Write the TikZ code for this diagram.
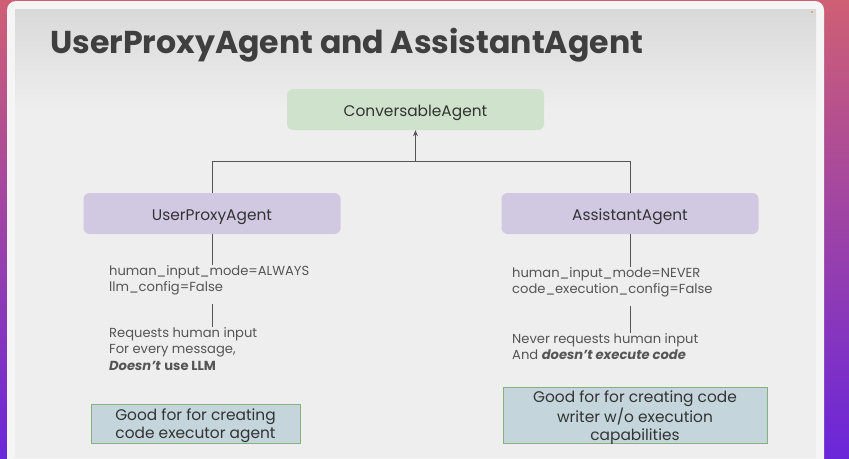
\documentclass[tikz,border=0pt]{standalone}
\usepackage{fontspec}
\setmainfont{Poppins}
\usetikzlibrary{arrows.meta,calc}
\definecolor{bgtop}{HTML}{CF5F74}
\definecolor{bgbot}{HTML}{6A26DA}
\definecolor{framec}{HTML}{F5F5F5}
\definecolor{slidetop}{HTML}{D9D9D9}
\definecolor{slidebg}{HTML}{EEEEEE}
\definecolor{titlec}{HTML}{3F3F3F}
\definecolor{textc}{HTML}{333333}
\definecolor{notec}{HTML}{555555}
\definecolor{linec}{HTML}{555555}
\definecolor{convc}{HTML}{CFE2CB}
\definecolor{lavc}{HTML}{D1C9E2}
\definecolor{goodf}{HTML}{C4D6DC}
\definecolor{goodb}{HTML}{82B27E}
\newcommand{\lowerby}[2]{\raisebox{-#1}[\height][\depth]{#2}}
\tikzset{
  agent/.style={rounded corners=6pt, minimum width=257pt, minimum height=41pt, font=\fontsize{15.4}{18}\selectfont, text=textc, inner sep=0pt, text height=10.8pt, text depth=0pt},
  note/.style={align=left, anchor=north west, inner sep=0pt, font=\fontsize{13.1}{16.8}\selectfont, text=notec},
  good/.style={draw=goodb, fill=goodf, line width=0.9pt, align=center, font=\fontsize{15.4}{18}\selectfont, text=textc, inner sep=0pt},
  conn/.style={draw=linec, line width=1pt},
}
\begin{document}
\begin{tikzpicture}[x=1pt,y=-1pt]
\useasboundingbox (0,0) rectangle (849,458);
\shade[top color=bgtop, bottom color=bgbot] (0,0) rectangle (849,458);
\fill[framec, rounded corners=9pt] (7,1) rectangle (824,490);
\shade[top color=slidetop, bottom color=slidebg] (15,9) rectangle (816,110);
\fill[slidebg] (15,109.5) rectangle (816,458);
\fill[orange] (812,12) circle (0.8);

\node[anchor=west, font=\fontsize{31.6}{36}\selectfont\bfseries, text=titlec, text height=22pt, text depth=0pt, inner sep=0pt] (title) at (50,42) {UserProxyAgent and AssistantAgent};

\node[agent, fill=convc] (conv) at (415.5,109.5) {\lowerby{1.8pt}{ConversableAgent}};
\node[agent, fill=lavc] (up) at (212,213.5) {\lowerby{1.8pt}{UserProxyAgent}};
\node[agent, fill=lavc] (aa) at (630,213.5) {\lowerby{1.8pt}{AssistantAgent}};

\coordinate (j) at (415.5,161);
\draw[conn] (up.north) -- (up.north |- j) -- (aa.north |- j) -- (aa.north);
\draw[conn, -{Stealth[length=6pt,width=5pt]}] (j) -- (conv.south);

\node[note] (n1) at (109,265) {human\_input\_mode=ALWAYS\\llm\_config=False};
\node[note] (n2) at (109,327) {Requests human input\\For every message,\\\textbf{\textit{Doesn’t}} \textbf{use LLM}};
\node[note] (n3) at (512,267) {human\_input\_mode=NEVER\\code\_execution\_config=False};
\node[note] (n4) at (512,333) {Never requests human input\\And \textbf{\textit{doesn’t execute code}}};

\draw[conn] (up.south) -- (up.south |- n1.north);
\draw[conn] ($(n1.south -| up.south)+(0,8)$) -- (up.south |- n2.north);
\draw[conn] (aa.south) -- (aa.south |- n3.north);
\draw[conn] ($(n3.south -| aa.south)+(0,8)$) -- (aa.south |- n4.north);

\node[good, minimum width=209pt, minimum height=39pt] (g1) at (195.5,423.5) {\lowerby{2pt}{\begin{tabular}{@{}c@{}}Good for for creating\\code executor agent\end{tabular}}};
\node[good, minimum width=264pt, minimum height=55pt] (g2) at (635,415.5) {\lowerby{2.5pt}{\begin{tabular}{@{}c@{}}Good for for creating code\\writer w/o execution\\capabilities\end{tabular}}};
\end{tikzpicture}
\end{document}
